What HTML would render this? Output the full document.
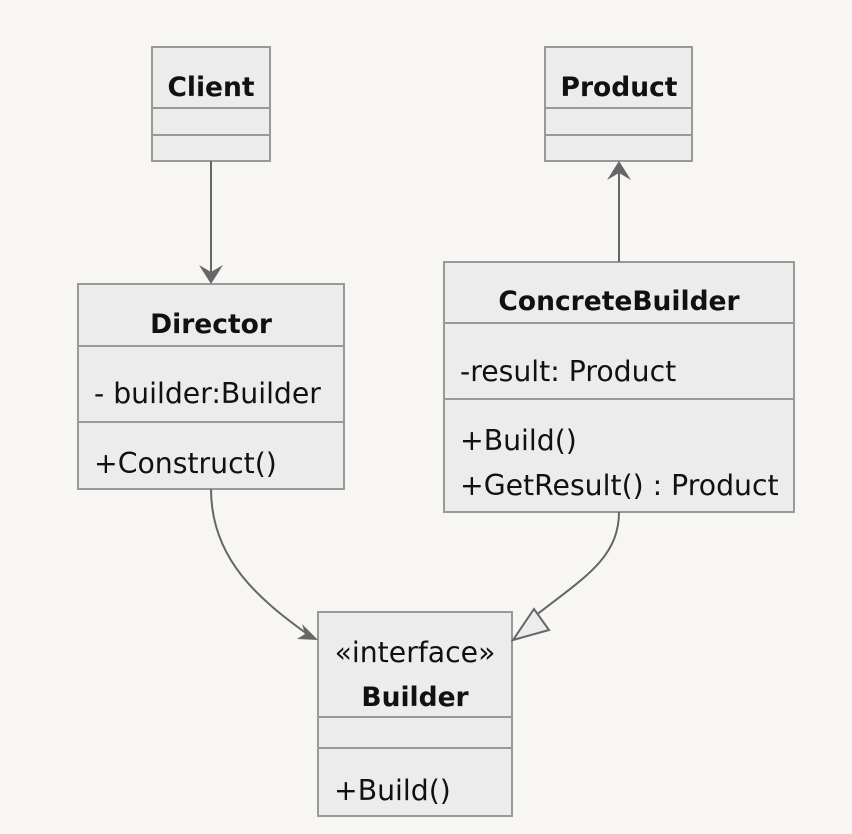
<!DOCTYPE html>
<html><head><meta charset="utf-8"><style>
html,body{margin:0;padding:0;background:#f7f6f3;}
svg{display:block}
text{font-family:"DejaVu Sans","Liberation Sans",sans-serif;fill:#111;}
.t{font-weight:bold;font-size:26.5px;text-anchor:middle}
.m{font-size:28.3px}
</style></head><body>
<svg width="852" height="834" viewBox="0 0 852 834" xmlns="http://www.w3.org/2000/svg">
<rect width="852" height="834" fill="#f7f6f3"/>
<g fill="#ececec" stroke="#999" stroke-width="2">
<rect x="152" y="47" width="118" height="114"/><line x1="152" y1="108" x2="270" y2="108"/><line x1="152" y1="135" x2="270" y2="135"/>
<rect x="545" y="47" width="147" height="114"/><line x1="545" y1="108" x2="692" y2="108"/><line x1="545" y1="135" x2="692" y2="135"/>
<rect x="78" y="284" width="266" height="205"/><line x1="78" y1="346" x2="344" y2="346"/><line x1="78" y1="422" x2="344" y2="422"/>
<rect x="444" y="262" width="350" height="250"/><line x1="444" y1="323" x2="794" y2="323"/><line x1="444" y1="399" x2="794" y2="399"/>
<rect x="318" y="612" width="194" height="204"/><line x1="318" y1="717" x2="512" y2="717"/><line x1="318" y1="748" x2="512" y2="748"/>
</g>
<text class="t" x="211" y="96">Client</text>
<text class="t" x="619" y="96">Product</text>
<text class="t" x="211" y="333">Director</text>
<text class="m" x="94" y="403">- builder:Builder</text>
<text class="m" x="94" y="473">+Construct()</text>
<text class="t" x="619" y="310">ConcreteBuilder</text>
<text class="m" x="460" y="381">-result: Product</text>
<text class="m" x="460" y="450">+Build()</text>
<text class="m" x="460" y="495">+GetResult() : Product</text>
<text class="m" x="415" y="662" text-anchor="middle">«interface»</text>
<text class="t" x="415" y="706">Builder</text>
<text class="m" x="334" y="800">+Build()</text>
<g stroke="#666" stroke-width="2" fill="none">
<line x1="211" y1="161" x2="211" y2="276"/>
<line x1="619" y1="262" x2="619" y2="170"/>
<path d="M211 489 C211 560 260 600 310 636"/>
<path d="M619 512 C619 560 580 580 530 620"/>
</g>
<g fill="#666">
<path d="M211 284 L199 265 L211 272 L223 265 Z"/>
<path d="M619 161 L607 180 L619 173 L631 180 Z"/>
<path d="M318 640 L297 639 L305 634 L302 624 Z"/>
</g>
<path d="M513 640 L534 609 L549 630 Z" fill="#ececec" stroke="#666" stroke-width="2"/>
</svg>
</body></html>
